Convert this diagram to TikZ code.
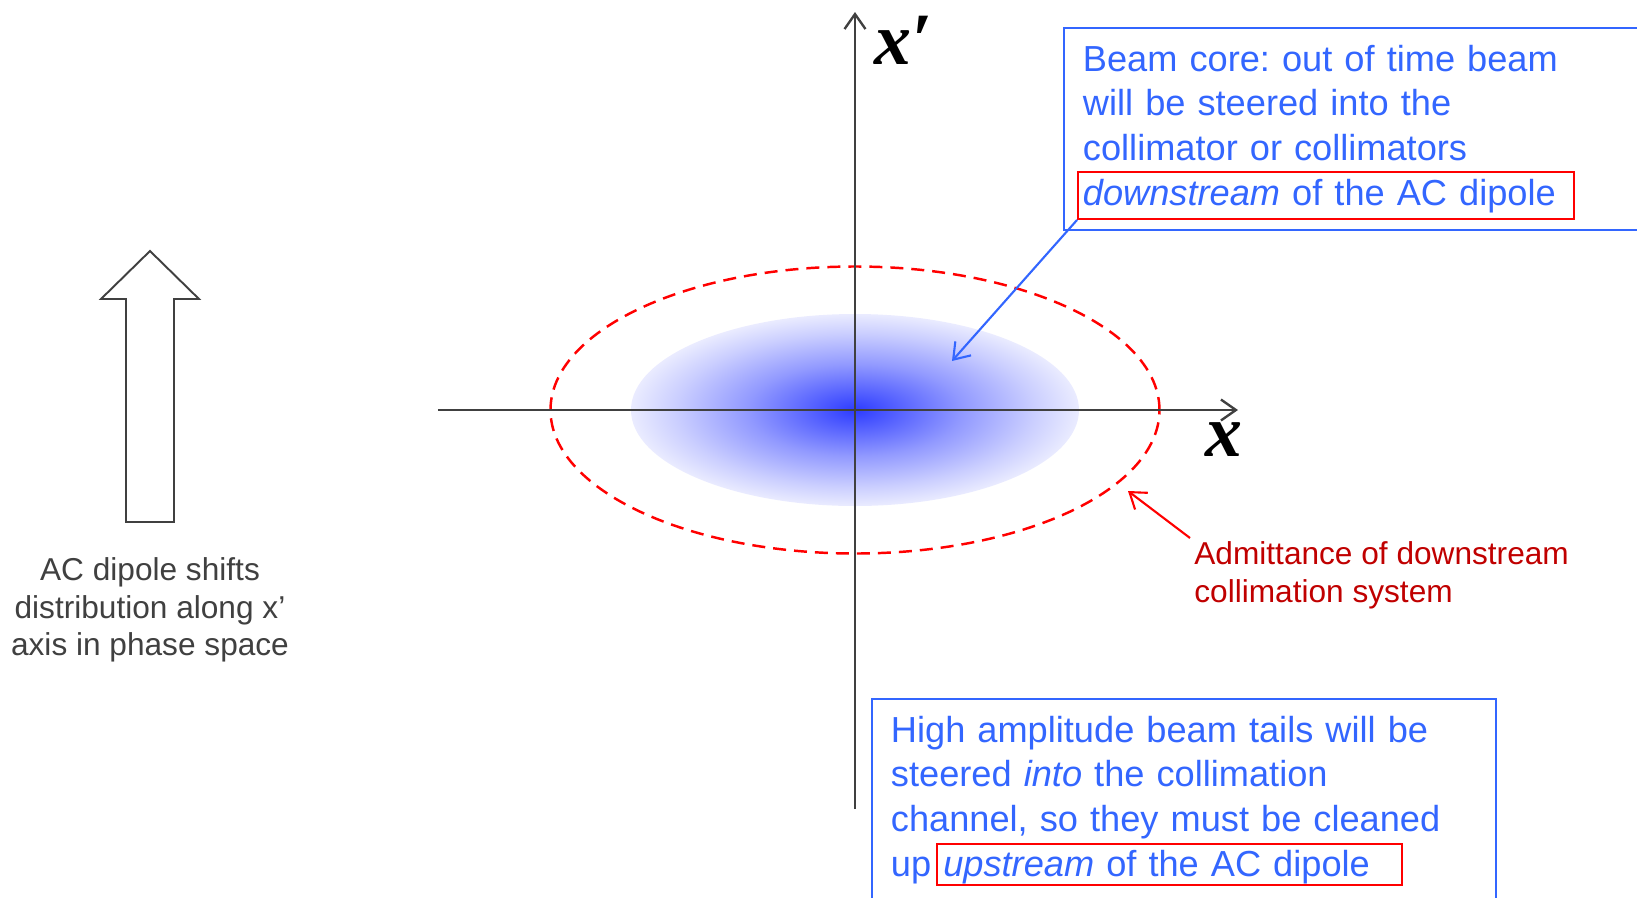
\documentclass[tikz,border=0pt]{standalone}
\usepackage{fontspec}
\setmainfont{Liberation Sans}
\newfontfamily\axisfont{Liberation Serif}
\usepackage{tikz}
\usetikzlibrary{arrows.meta,positioning}
\frenchspacing

\definecolor{axisgray}{RGB}{64,64,64}
\definecolor{textblue}{RGB}{51,102,255}
\definecolor{coreblue}{RGB}{45,60,255}
\definecolor{admitred}{RGB}{192,0,0}

\pgfdeclareradialshading{beamcore}{\pgfpointorigin}{color(0bp)=(coreblue); color(5bp)=(coreblue!80); color(12bp)=(coreblue!52); color(20bp)=(coreblue!25); color(25bp)=(coreblue!10); color(50bp)=(coreblue!10)}

\begin{document}
\begin{tikzpicture}[
  axisline/.style={line width=1.35pt, axisgray, -{Straight Barb[length=0.3cm,width=0.42cm]}},
  axislabel/.style={font=\axisfont\bfseries\itshape\fontsize{42}{42}\selectfont, inner sep=0pt},
  pointer/.style={line width=1.2pt, -{Straight Barb[length=0.3cm,width=0.42cm]}},
  infobox/.style={draw=textblue, line width=1.1pt, text=textblue, anchor=north west, align=left,
    inner xsep=0.38cm, inner ysep=0.34cm, font=\fontsize{20.6}{25.4}\selectfont},
  redframe/.style={draw=red, line width=1.1pt, inner sep=0pt},
  note/.style={font=\fontsize{18}{21.5}\selectfont, inner sep=0pt}
]

% Frame
\useasboundingbox (-17.1,-9.74) rectangle (15.64,8.2);

% Beam core
\shade[shading=beamcore] (0,0) ellipse [x radius=4.48, y radius=1.92];

% Admittance
\draw[red, line width=1.4pt, dash pattern=on 0.26cm off 0.16cm] (0,0) ellipse [x radius=6.09, y radius=2.87];

% Axes
\coordinate (o) at (0,0);
\coordinate (xmin) at (-8.34,0);
\coordinate (xmax) at (7.66,0);
\coordinate (ymin) at (0,-7.98);
\coordinate (ymax) at (0,7.96);
\draw[axisline] (xmin) -- (xmax);
\draw[axisline] (ymin) -- (ymax);
\node[axislabel] (xlab) at (7.38,-0.6) {x};
\node[axislabel] (xplab) at (0.96,7.4) {x′};

% Beam core note
\node[infobox, text width=12cm] (core) at (4.16,7.66) {Beam core: out of time beam\\
  will be steered into the\\
  collimator or collimators\\
  \textit{downstream} of the AC dipole};
\node[redframe, minimum width=9.92cm, minimum height=0.94cm] (downbox) at (9.42,4.29) {};
\coordinate (coretip) at (1.94,0.98);
\draw[pointer, textblue] (downbox.south west) -- (coretip);

% Tails note
\node[infobox, text width=11.72cm] (tails) at (0.32,-5.76) {High amplitude beam tails will be\\
  steered \textit{into} the collimation\\
  channel, so they must be cleaned\\
  up \textit{upstream} of the AC dipole};
\node[redframe, minimum width=9.3cm, minimum height=0.82cm] (upbox) at (6.29,-9.09) {};

% Admittance note
\node[note, text=admitred, align=left, anchor=north west] (admit) at (6.78,-2.62) {Admittance of downstream\\
  collimation system};
\coordinate (admittip) at (5.46,-1.62);
\draw[pointer, red] ([xshift=-0.08cm,yshift=0.06cm]admit.north west) -- (admittip);

% AC dipole kick
\draw[axisgray, line width=1.1pt] (-14.58,-2.24) -- (-14.58,2.22) -- (-15.08,2.22) -- (-14.1,3.18)
  -- (-13.12,2.22) -- (-13.62,2.22) -- (-13.62,-2.24) -- cycle;
\node[note, text=axisgray, align=center, anchor=north] (shift) at (-14.1,-2.94) {AC dipole shifts\\
  distribution along x’\\
  axis in phase space};

\end{tikzpicture}
\end{document}
